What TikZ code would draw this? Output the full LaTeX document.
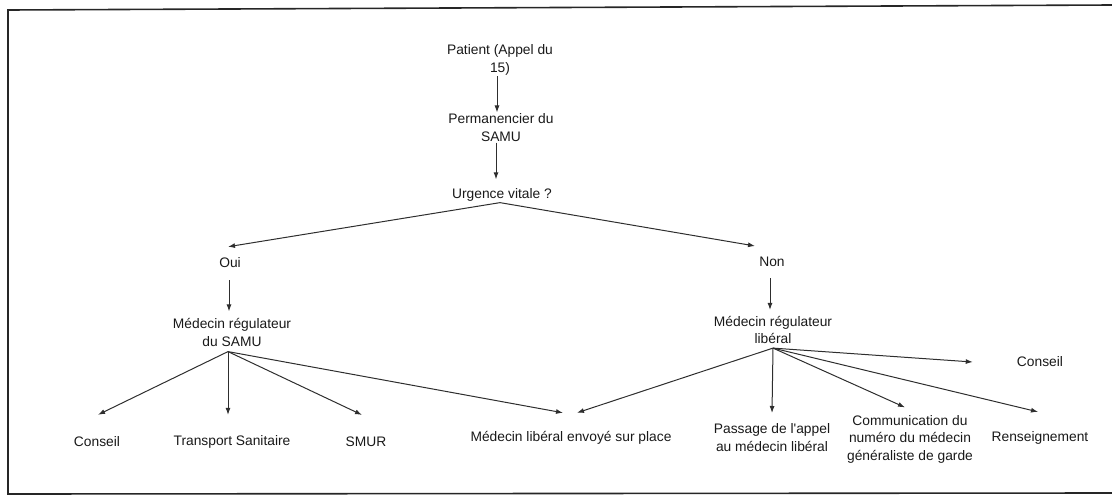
\documentclass[tikz,border=0pt]{standalone}
\usepackage{fontspec}
\setmainfont{Liberation Sans}
\usetikzlibrary{arrows.meta}
\begin{document}
\begin{tikzpicture}[x=1pt,y=-1pt,
  lbl/.style={inner sep=1pt, align=center, font=\fontsize{13.8}{17.5}\selectfont, text=black!90},
  arr/.style={-{Latex[length=7pt,width=5pt]}, line width=1pt, draw=black!82}]
\useasboundingbox (0,0) rectangle (1112,496);
\draw[line width=1.6pt, black!85] (1112,5) -- (8,10) -- (8,494) -- (1112,493);
% nodes
\node[lbl] (patient) at (500,60) {Patient (Appel du\\15)};
\node[lbl] (perm) at (501,127.5) {Permanencier du\\SAMU};
\node[lbl] (urg) at (502,195) {Urgence vitale ?};
\node[lbl] (oui) at (230,263) {Oui};
\node[lbl] (non) at (772,262) {Non};
\node[lbl] (msamu) at (232,332.5) {Médecin régulateur\\du SAMU};
\node[lbl] (mlib) at (773,330) {Médecin régulateur\\libéral};
\node[lbl] (conseilL) at (97,442) {Conseil};
\node[lbl] (transport) at (232,442) {Transport Sanitaire};
\node[lbl] (smur) at (366,442) {SMUR};
\node[lbl] (envoye) at (571,438) {Médecin libéral envoyé sur place};
\node[lbl] (passage) at (772,437.5) {Passage de l\textquotesingle appel\\au médecin libéral};
\node[lbl] (comm) at (910,439) {Communication du\\numéro du médecin\\généraliste de garde};
\node[lbl] (renseign) at (1040,438) {Renseignement};
\node[lbl] (conseilR) at (1040,362) {Conseil};
% connectors
\draw[arr] ([xshift=-3pt]patient.south) -- ([xshift=-4pt]perm.north);
\draw[arr] ([xshift=-5pt]perm.south) -- ([xshift=-6pt,yshift=8pt]urg.north);
\draw[arr] ([xshift=-2pt]urg.south) -- ([xshift=-2pt,yshift=10pt]oui.north);
\draw[arr] ([xshift=-2pt]urg.south) -- ([xshift=-17pt,yshift=10pt]non.north);
\draw[arr] ([xshift=-1pt,yshift=-11pt]oui.south) -- ([xshift=-3pt,yshift=6pt]msamu.north);
\draw[arr] ([xshift=-2pt,yshift=-10pt]non.south) -- ([xshift=-3pt,yshift=5pt]mlib.north);
% fan from Médecin régulateur du SAMU
\draw[arr] ([xshift=-4pt,yshift=-4pt]msamu.south) -- ([xshift=1pt,yshift=21pt]conseilL.north);
\draw[arr] ([xshift=-4pt,yshift=-4pt]msamu.south) -- ([xshift=-4pt,yshift=19.5pt]transport.north);
\draw[arr] ([xshift=-4pt,yshift=-4pt]msamu.south) -- ([xshift=-4pt,yshift=21pt]smur.north);
\draw[arr] ([xshift=-4pt,yshift=-4pt]msamu.south) -- ([xshift=-8pt,yshift=17.5pt]envoye.north);
% fan from Médecin régulateur libéral
\draw[arr] ([yshift=-3pt]mlib.south) -- ([xshift=6pt,yshift=17.5pt]envoye.north);
\draw[arr] ([yshift=-3pt]mlib.south) -- ([yshift=9.5pt]passage.north);
\draw[arr] ([yshift=-3pt]mlib.south) -- ([xshift=-5pt,yshift=6.5pt]comm.north);
\draw[arr] ([yshift=-3pt]mlib.south) -- ([xshift=-2pt,yshift=18.5pt]renseign.north);
\draw[arr] ([yshift=-3pt]mlib.south) -- ([xshift=-43pt]conseilR.west);
\end{tikzpicture}
\end{document}
